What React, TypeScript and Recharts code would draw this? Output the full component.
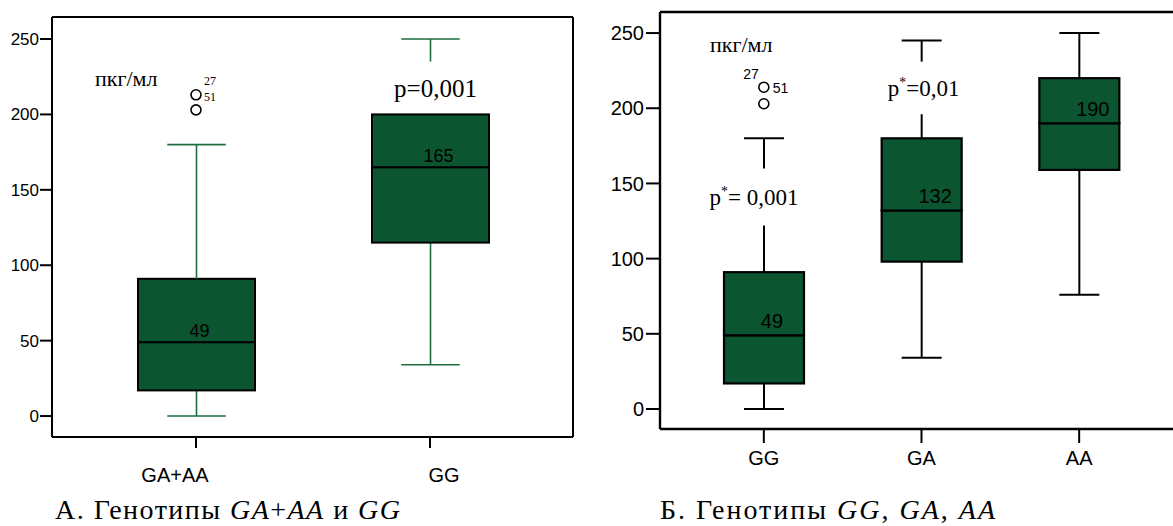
import React from 'react';
import { ComposedChart, Bar, Scatter, XAxis, YAxis } from 'recharts';

const SANS = '"Liberation Sans", Arial, Helvetica, sans-serif';
const SERIF = '"Liberation Serif", "Times New Roman", Times, serif';
const BOX_FILL = '#0b5530';

// ---------- Panel A: GA+AA vs GG ----------
const catsA = ['GA+AA', 'GG'];
const minA = [0, 34];
const q1A = [17, 115];
const medA = [49, 165];
const q3A = [91, 200];
const maxA = [180, 250];
const gapLoA = [91, 200];
const gapHiA = [91, 235];
const pTextA = ['', 'p=0,001'];
const outHiA: (number | null)[] = [213, null];
const outLoA: (number | null)[] = [203, null];
const outIdsA = [['27', '51'], []];
const yTicksA = [0, 50, 100, 150, 200, 250];

// ---------- Panel B: GG, GA, AA ----------
const catsB = ['GG', 'GA', 'AA'];
const minB = [0, 34, 76];
const q1B = [17, 98, 159];
const medB = [49, 132, 190];
const q3B = [91, 180, 220];
const maxB = [180, 245, 250];
const gapLoB = [122, 196, 220];
const gapHiB = [160, 231, 220];
const pTextB = ['p*= 0,001', 'p*=0,01', ''];
const outHiB: (number | null)[] = [214, null, null];
const outLoB: (number | null)[] = [203, null, null];
const outIdsB = [['27', '51'], [], []];
const yTicksB = [0, 50, 100, 150, 200, 250];

const unitLabel = 'пкг/мл';

function buildRows(
  cats: string[], mins: number[], q1s: number[], meds: number[], q3s: number[], maxs: number[],
  gLo: number[], gHi: number[], pTexts: string[], oHi: (number | null)[], oLo: (number | null)[], ids: string[][]
) {
  return cats.map((c, i) => ({
    cat: c,
    base: mins[i],
    lowW: q1s[i] - mins[i],
    boxLow: meds[i] - q1s[i],
    boxHigh: q3s[i] - meds[i],
    upW1: gLo[i] - q3s[i],
    gap: gHi[i] - gLo[i],
    upW2: maxs[i] - gHi[i],
    median: meds[i],
    pText: pTexts[i],
    outHi: oHi[i],
    outLo: oLo[i],
    ids: ids[i],
  }));
}

const rowsA = buildRows(catsA, minA, q1A, medA, q3A, maxA, gapLoA, gapHiA, pTextA, outHiA, outLoA, outIdsA);
const rowsB = buildRows(catsB, minB, q1B, medB, q3B, maxB, gapLoB, gapHiB, pTextB, outHiB, outLoB, outIdsB);

type IdPos = { dx: number; dy: number; anchor: 'start' | 'end' | 'middle' };

type Cfg = {
  rows: any[];
  left: number;
  width: number;
  height: number;
  marginTop: number;
  marginRight: number;
  yAxisWidth: number;
  xAxisHeight: number;
  domain: [number, number];
  ticks: number[];
  xPad: { left: number; right: number };
  barSize: number;
  whiskerColor: string;
  whiskerWidth: number;
  boxStroke: number;
  frameWidth: number;
  yTickFont: number;
  yTickSize: number;
  yTickMargin: number;
  xTickSize: number;
  xLabelFont: number;
  xLabelDy: number;
  xLabelDx: Record<string, number>;
  medFont: number;
  medFrac: number;
  medGap: number;
  pFont: number;
  pDx: Record<string, number>;
  idFont: number;
  idFamily: string;
  idPos: IdPos[];
  rightFrame: boolean;
};

function span(p: any) {
  const top = Math.min(p.y, p.y + p.height);
  const bot = Math.max(p.y, p.y + p.height);
  return { top, bot, cx: p.x + p.width / 2 };
}

function BoxPanel({ cfg }: { cfg: Cfg }) {
  const wl = { stroke: cfg.whiskerColor, strokeWidth: cfg.whiskerWidth };

  const lowShape = (p: any) => {
    const { top, bot, cx } = span(p);
    const cw = p.width / 4;
    return (
      <g>
        <line x1={cx} x2={cx} y1={top} y2={bot} {...wl} />
        <line x1={cx - cw} x2={cx + cw} y1={bot} y2={bot} {...wl} />
      </g>
    );
  };

  const boxShape = (withLabel: boolean) => (p: any) => {
    const { top, bot } = span(p);
    return (
      <g>
        <rect x={p.x} y={top} width={p.width} height={bot - top} fill={BOX_FILL} stroke="#000" strokeWidth={cfg.boxStroke} />
        {withLabel ? (
          <text x={p.x + p.width * cfg.medFrac} y={bot - cfg.medGap} fontFamily={SANS} fontSize={cfg.medFont} fill="#000" textAnchor="start">
            {p.payload.median}
          </text>
        ) : null}
      </g>
    );
  };

  const upShape1 = (p: any) => {
    const { top, bot, cx } = span(p);
    if (bot - top < 0.5) return <g />;
    return <line x1={cx} x2={cx} y1={top} y2={bot} {...wl} />;
  };

  const gapShape = (p: any) => {
    const { top, bot, cx } = span(p);
    const t: string = p.payload.pText;
    if (!t) return <g />;
    const x = cx + (cfg.pDx[p.payload.cat] ?? 0);
    const y = (top + bot) / 2 + cfg.pFont * 0.34;
    const parts = t.split('*');
    return (
      <text x={x} y={y} textAnchor="middle" fontFamily={SERIF} fontSize={cfg.pFont} fill="#000">
        {parts.length > 1 ? (
          <>
            <tspan>{parts[0]}</tspan>
            <tspan dy={-cfg.pFont * 0.38} fontSize={cfg.pFont * 0.6}>*</tspan>
            <tspan dy={cfg.pFont * 0.38}>{parts[1]}</tspan>
          </>
        ) : (
          t
        )}
      </text>
    );
  };

  const upShape2 = (p: any) => {
    const { top, bot, cx } = span(p);
    const cw = p.width / 4;
    if (bot - top < 0.5) return <g />;
    return (
      <g>
        <line x1={cx} x2={cx} y1={top} y2={bot} {...wl} />
        <line x1={cx - cw} x2={cx + cw} y1={top} y2={top} {...wl} />
      </g>
    );
  };

  const outShape = (key: string, withIds: boolean) => (p: any) => {
    const v = p.payload ? p.payload[key] : null;
    if (v == null || !Number.isFinite(p.cx) || !Number.isFinite(p.cy)) return <g />;
    const ids: string[] = withIds ? p.payload.ids || [] : [];
    return (
      <g>
        <circle cx={p.cx} cy={p.cy} r={5} fill="#fff" stroke="#000" strokeWidth={1.6} />
        {ids.map((id, i) => {
          const pos = cfg.idPos[i];
          return (
            <text key={id} x={p.cx + pos.dx} y={p.cy + pos.dy} textAnchor={pos.anchor} fontFamily={cfg.idFamily} fontSize={cfg.idFont} fill="#000">
              {id}
            </text>
          );
        })}
      </g>
    );
  };

  const XTick = (props: any) => {
    const { x, y, payload } = props;
    return (
      <text x={x + (cfg.xLabelDx[payload.value] ?? 0)} y={y + cfg.xLabelDy} textAnchor="middle" fontFamily={SANS} fontSize={cfg.xLabelFont} fill="#000">
        {payload.value}
      </text>
    );
  };

  const axisLine = { stroke: '#000', strokeWidth: cfg.frameWidth };
  const tickLine = { stroke: '#000', strokeWidth: 2 };

  return (
    <div style={{ position: 'absolute', left: cfg.left, top: 0 }}>
      <ComposedChart
        width={cfg.width}
        height={cfg.height}
        data={cfg.rows}
        margin={{ top: cfg.marginTop - 1, right: cfg.marginRight - (cfg.rightFrame ? 1 : 0), left: 0, bottom: 0 }}
      >
        <XAxis
          dataKey="cat"
          type="category"
          height={cfg.xAxisHeight}
          padding={cfg.xPad}
          axisLine={axisLine}
          tickLine={tickLine}
          tickSize={cfg.xTickSize}
          tickMargin={0}
          tick={<XTick />}
          interval={0}
        />
        <XAxis xAxisId="top" orientation="top" dataKey="cat" type="category" height={1} tick={false} tickLine={false} axisLine={axisLine} />
        <YAxis
          type="number"
          domain={cfg.domain}
          ticks={cfg.ticks}
          width={cfg.yAxisWidth}
          axisLine={axisLine}
          tickLine={tickLine}
          tickSize={cfg.yTickSize}
          tickMargin={cfg.yTickMargin}
          tick={{ fontSize: cfg.yTickFont, fill: '#000', fontFamily: SANS }}
          allowDataOverflow
          interval={0}
        />
        {cfg.rightFrame ? (
          <YAxis yAxisId="right" orientation="right" type="number" domain={cfg.domain} width={1} tick={false} tickLine={false} axisLine={axisLine} />
        ) : null}
        <Bar dataKey="base" stackId="b" barSize={cfg.barSize} fill="transparent" isAnimationActive={false} shape={() => <g />} />
        <Bar dataKey="lowW" stackId="b" barSize={cfg.barSize} isAnimationActive={false} shape={lowShape} />
        <Bar dataKey="boxLow" stackId="b" barSize={cfg.barSize} isAnimationActive={false} shape={boxShape(false)} />
        <Bar dataKey="boxHigh" stackId="b" barSize={cfg.barSize} isAnimationActive={false} shape={boxShape(true)} />
        <Bar dataKey="upW1" stackId="b" barSize={cfg.barSize} isAnimationActive={false} shape={upShape1} />
        <Bar dataKey="gap" stackId="b" barSize={cfg.barSize} isAnimationActive={false} shape={gapShape} />
        <Bar dataKey="upW2" stackId="b" barSize={cfg.barSize} isAnimationActive={false} shape={upShape2} />
        <Scatter dataKey="outLo" isAnimationActive={false} shape={outShape('outLo', false)} />
        <Scatter dataKey="outHi" isAnimationActive={false} shape={outShape('outHi', true)} />
      </ComposedChart>
    </div>
  );
}

const cfgA: Cfg = {
  rows: rowsA,
  left: 0,
  width: 580,
  height: 500,
  marginTop: 17,
  marginRight: 7,
  yAxisWidth: 52,
  xAxisHeight: 63,
  domain: [-13.9, 264.6],
  ticks: yTicksA,
  xPad: { left: 27, right: 26 },
  barSize: 117,
  whiskerColor: '#1f6e40',
  whiskerWidth: 1.6,
  boxStroke: 2,
  frameWidth: 2,
  yTickFont: 17,
  yTickSize: 12,
  yTickMargin: 1,
  xTickSize: 11,
  xLabelFont: 20,
  xLabelDy: 34,
  xLabelDx: { 'GA+AA': -21, GG: 14 },
  medFont: 18,
  medFrac: 0.44,
  medGap: 5,
  pFont: 25,
  pDx: { GG: 5 },
  idFont: 12,
  idFamily: SERIF,
  idPos: [
    { dx: 8, dy: -10, anchor: 'start' },
    { dx: 8, dy: 6, anchor: 'start' },
  ],
  rightFrame: true,
};

const cfgB: Cfg = {
  rows: rowsB,
  left: 600,
  width: 583,
  height: 490,
  marginTop: 12,
  marginRight: 0,
  yAxisWidth: 60,
  xAxisHeight: 61,
  domain: [-13.3, 264],
  ticks: yTicksB,
  xPad: { left: 25, right: 25 },
  barSize: 80,
  whiskerColor: '#000',
  whiskerWidth: 2,
  boxStroke: 2.2,
  frameWidth: 2.4,
  yTickFont: 20,
  yTickSize: 14,
  yTickMargin: 2,
  xTickSize: 14,
  xLabelFont: 20,
  xLabelDy: 22,
  xLabelDx: {},
  medFont: 20,
  medFrac: 0.46,
  medGap: 7,
  pFont: 23,
  pDx: { GG: -10, GA: 2 },
  idFont: 14,
  idFamily: SANS,
  idPos: [
    { dx: -5, dy: -8, anchor: 'end' },
    { dx: 9, dy: 6, anchor: 'start' },
  ],
  rightFrame: false,
};

export default function App() {
  return (
    <div style={{ position: 'absolute', left: 0, top: 0, width: 1173, height: 526, overflow: 'hidden', background: '#fff' }}>
      <BoxPanel cfg={cfgA} />
      <BoxPanel cfg={cfgB} />
      <svg width={1173} height={526} style={{ position: 'absolute', left: 0, top: 0, pointerEvents: 'none' }}>
        <text x={95} y={86} fontFamily={SERIF} fontSize={22} fill="#000">{unitLabel}</text>
        <text x={710} y={52} fontFamily={SERIF} fontSize={22} fill="#000">{unitLabel}</text>
        <text x={55} y={519} fontFamily={SERIF} fontSize={28} fill="#000" textLength={345} lengthAdjust="spacing">
          А. Генотипы <tspan fontStyle="italic">GA</tspan>+<tspan fontStyle="italic">AA</tspan> и <tspan fontStyle="italic">GG</tspan>
        </text>
        <text x={660} y={519} fontFamily={SERIF} fontSize={28} fill="#000" textLength={335} lengthAdjust="spacing">
          Б. Генотипы <tspan fontStyle="italic">GG</tspan>, <tspan fontStyle="italic">GA</tspan>, <tspan fontStyle="italic">AA</tspan>
        </text>
      </svg>
    </div>
  );
}
